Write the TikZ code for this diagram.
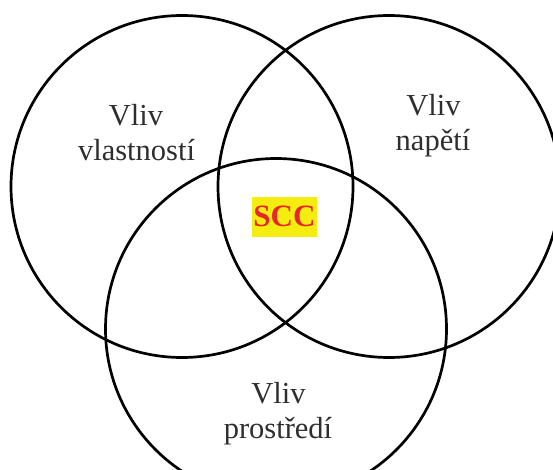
\documentclass[tikz,border=0pt]{standalone}
\usepackage{fontspec}
\setmainfont{Liberation Serif}
\definecolor{labelgray}{HTML}{2E2E2E}
\definecolor{hiyellow}{HTML}{F5EC10}
\definecolor{sccred}{HTML}{E8262A}
\begin{document}
\begin{tikzpicture}[x=1pt,y=-1pt,
  ring/.style={draw=black,line width=2.7pt},
  lbl/.style={anchor=base,inner sep=0pt,text=labelgray,font=\fontsize{30.5}{34}\selectfont},
  core/.style={fill=hiyellow,text=sccred,inner xsep=1.5pt,inner ysep=0pt,
    minimum height=40pt,font=\fontsize{31}{34}\selectfont\bfseries}]
  \useasboundingbox (0,0) rectangle (553,470);
  \clip (0,0) rectangle (553,470);
  % three overlapping influence circles
  \draw[ring] (182,186.5) circle[radius=171pt];
  \draw[ring] (389,186.5) circle[radius=171pt];
  \draw[ring] (276,329) circle[radius=170.5pt];
  % circle labels
  \node[lbl] (vl1) at (136,126) {Vliv};
  \node[lbl] (vl2) at (136.5,160.5) {vlastností};
  \node[lbl] (np1) at (433.5,115.5) {Vliv};
  \node[lbl] (np2) at (433,150.5) {napětí};
  \node[lbl] (pr1) at (278.5,403.5) {Vliv};
  \node[lbl] (pr2) at (278,438.5) {prostředí};
  % common intersection
  \node[core] (scc) at (284.5,216.7) {SCC};
\end{tikzpicture}
\end{document}
